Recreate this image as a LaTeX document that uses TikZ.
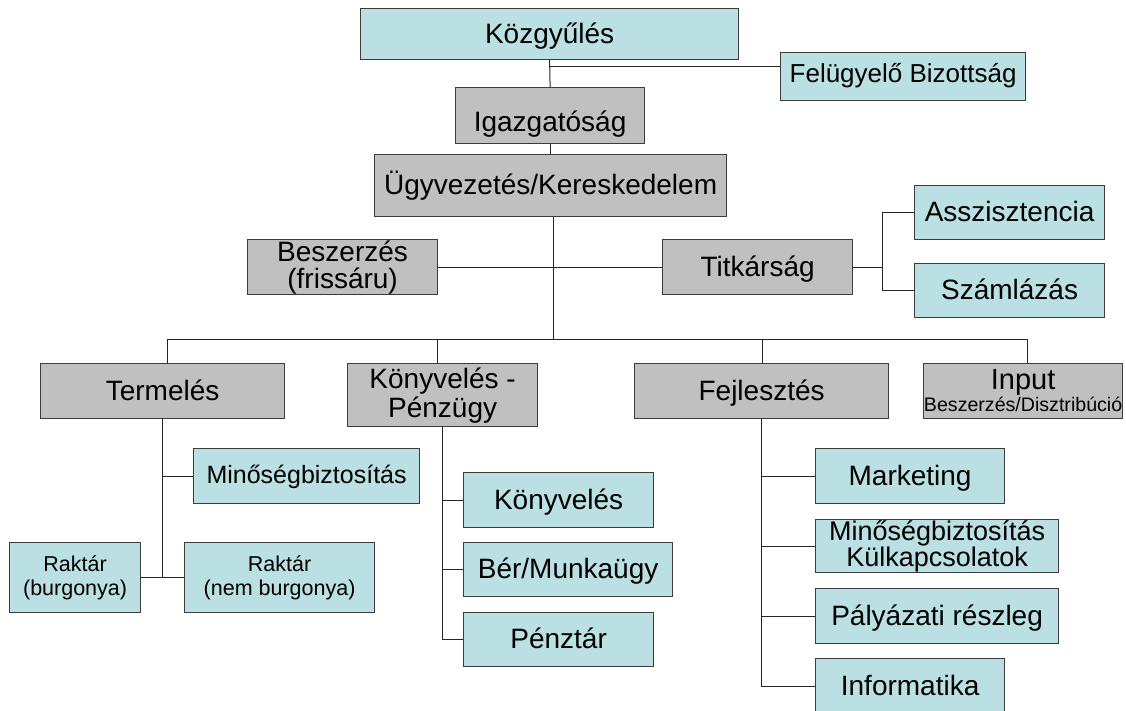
\documentclass[tikz,border=0pt]{standalone}
\usepackage{fontspec}
\setmainfont{Liberation Sans}
\definecolor{cyanfill}{RGB}{187,224,227}
\definecolor{grayfill}{RGB}{192,192,192}
\definecolor{edgecol}{RGB}{60,60,60}
\newcommand{\fs}[2]{\fontsize{#1}{#2}\selectfont}
\begin{document}
\begin{tikzpicture}[x=1pt,y=-1pt,
  unit/.style={draw=edgecol, line width=1.2pt, inner sep=0pt, anchor=north west,
               align=center, text=black, font=\fs{28}{29}},
  one/.style={text height=20pt, text depth=2pt},
  gbox/.style={unit, fill=grayfill},
  cbox/.style={unit, fill=cyanfill},
  link/.style={draw=black!85, line width=1pt}]
\useasboundingbox (0,0) rectangle (1126,711);
\clip (0,0) rectangle (1126,711);

% top of the hierarchy
\node[cbox, one, minimum width=378, minimum height=51] (kozgy) at (360,8) {Közgyűlés};
\node[cbox, minimum width=245, minimum height=48, font=\fs{26}{27},
      text height=14pt, text depth=2pt] (felugy) at (780,52) {Felügyelő Bizottság};
\node[gbox, minimum width=189, minimum height=56, text height=34pt, text depth=2pt]
      (igazg) at (455,87) {Igazgatóság};
\node[gbox, one, minimum width=352, minimum height=62] (ugyv) at (374,154) {Ügyvezetés/Kereskedelem};

% staff level
\node[gbox, minimum width=190, minimum height=55, font=\fs{28}{27}] (besz) at (247,239) {Beszerzés\\(frissáru)};
\node[gbox, one, minimum width=190, minimum height=55] (titk) at (662,239) {Titkárság};
\node[cbox, one, minimum width=190, minimum height=54] (assz) at (914,185) {Asszisztencia};
\node[cbox, one, minimum width=190, minimum height=54] (szaml) at (914,263) {Számlázás};

% departments
\node[gbox, one, minimum width=244, minimum height=55] (term) at (40,363) {Termelés};
\node[gbox, minimum width=190, minimum height=63] (konyvp) at (347,363) {Könyvelés -\\Pénzügy};
\node[gbox, one, minimum width=254, minimum height=55] (fejl) at (634,363) {Fejlesztés};
\node[gbox, minimum width=199, minimum height=55, font=\fs{19.6}{22}] (input) at (923,363)
      {{\fs{29}{30}Input}\\Beszerzés/Disztribúció};

% production units
\node[cbox, minimum width=226, minimum height=55, font=\fs{25}{26},
      text height=18pt, text depth=3pt] (minos) at (193,448) {Minőségbiztosítás};
\node[cbox, minimum width=131, minimum height=70, font=\fs{21.5}{24}] (rakt1) at (9,542) {Raktár\\(burgonya)};
\node[cbox, minimum width=190, minimum height=70, font=\fs{21.5}{24}] (rakt2) at (184,542) {Raktár\\(nem burgonya)};

% finance units
\node[cbox, one, minimum width=190, minimum height=55] (konyv) at (463,472) {Könyvelés};
\node[cbox, one, minimum width=209, minimum height=54] (ber) at (463,542) {Bér/Munkaügy};
\node[cbox, one, minimum width=190, minimum height=54] (penz) at (463,612) {Pénztár};

% development units
\node[cbox, one, minimum width=189, minimum height=55] (mark) at (815,448) {Marketing};
\node[cbox, minimum width=243, minimum height=53, font=\fs{27}{26}] (minkulk) at (815,519)
      {Minőségbiztosítás\\Külkapcsolatok};
\node[cbox, one, minimum width=243, minimum height=55] (palyaz) at (815,588) {Pályázati részleg};
\node[cbox, one, minimum width=189, minimum height=56] (info) at (815,658) {Informatika};

% junction points
\coordinate (fbj) at (550,67);
\coordinate (bus) at (553,339);
\coordinate (d1) at (167,339);
\coordinate (d2) at (437,339);
\coordinate (d3) at (762,339);
\coordinate (d4) at (1027,339);
\coordinate (tjx) at (882,0);

% connectors
\draw[link] (kozgy.south) -- (igazg.north);
\draw[link] (fbj) -- (fbj -| felugy.west);
\draw[link] (igazg.south) -- (igazg.south |- ugyv.north);
\draw[link] (ugyv.south -| bus) -- (bus);
\draw[link] (besz.east) -- (titk.west);
\draw[link] (titk.east) -- (titk.east -| tjx);
\draw[link] (assz.west) -| (tjx |- szaml.west) -- (szaml.west);
\draw[link] (d1) -- (d4);
\draw[link] (d1) -- (d1 |- term.north);
\draw[link] (d2) -- (d2 |- konyvp.north);
\draw[link] (d3) -- (d3 |- fejl.north);
\draw[link] (d4) -- (d4 |- input.north);

\draw[link] (term.south) |- (rakt2.west);
\draw[link] (rakt1.east) -- (rakt2.west);
\draw[link] (term.south |- minos.west) -- (minos.west);

\draw[link] (konyvp.south) |- (penz.west);
\draw[link] (konyvp.south |- konyv.west) -- (konyv.west);
\draw[link] (konyvp.south |- ber.west) -- (ber.west);

\draw[link] (fejl.south) |- (info.west);
\draw[link] (fejl.south |- mark.west) -- (mark.west);
\draw[link] (fejl.south |- minkulk.west) -- (minkulk.west);
\draw[link] (fejl.south |- palyaz.west) -- (palyaz.west);
\end{tikzpicture}
\end{document}
